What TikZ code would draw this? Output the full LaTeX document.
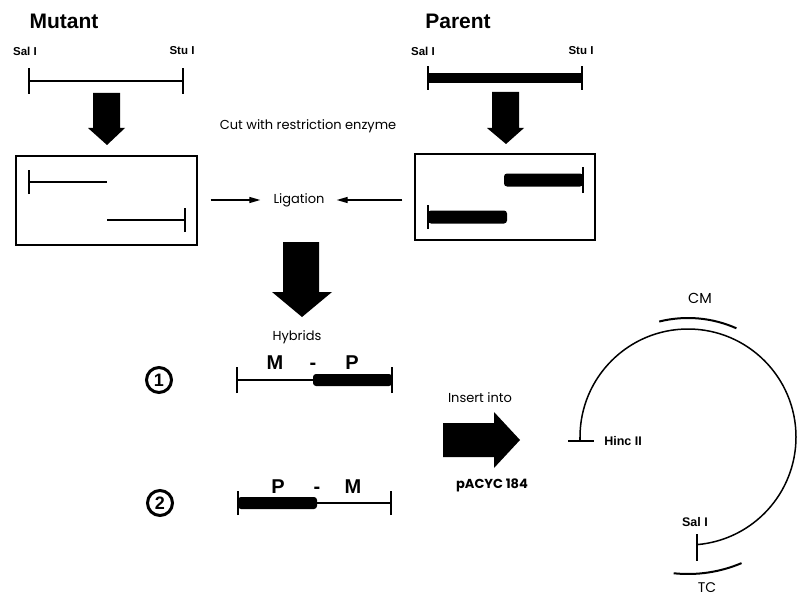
\documentclass[tikz,border=0pt]{standalone}
\usepackage{fontspec}
\setmainfont{Liberation Sans}
\newfontfamily\fut{Poppins}
\usetikzlibrary{arrows.meta,calc}
\begin{document}
\begin{tikzpicture}[x=1pt,y=-1pt,
  thinline/.style={line width=1.3pt},
  tickline/.style={line width=1.6pt},
  title/.style={font=\bfseries\fontsize{21}{21}\selectfont, inner sep=0},
  site/.style={font=\bfseries\fontsize{11.5}{11.5}\selectfont, inner sep=0},
  bigsite/.style={font=\bfseries\fontsize{12.5}{12.5}\selectfont, inner sep=0},
  plain/.style={font=\fut\fontsize{13}{13}\selectfont, inner sep=0},
  hyb/.style={font=\bfseries\fontsize{20}{20}\selectfont, inner sep=0, anchor=base},
  frame/.style={draw, line width=1.3pt, inner sep=0},
  smallarr/.style={line width=1.3pt, -{Triangle[length=11pt,width=6pt]}},
  num/.style={circle, draw, line width=3pt, inner sep=0, minimum size=25pt, font=\bfseries\fontsize{18}{18}\selectfont},
]
\useasboundingbox (0,0) rectangle (803,599);

% ---------- titles ----------
\node[title] (mut) at (64,21) {Mutant};
\node[title] (par) at (458,21) {Parent};

% ---------- mutant fragment ----------
\node[site] (msal) at (25,51) {Sal I};
\node[site] (mstu) at (182,51) {Stu I};
\coordinate (ma) at (29,81);
\coordinate (mb) at (183,81);
\draw[thinline] (ma) -- (mb);
\draw[tickline] ([yshift=-13]ma) -- ([yshift=13]ma);
\draw[tickline] ([yshift=-13]mb) -- ([yshift=13]mb);

% ---------- parent fragment ----------
\node[site] (psal) at (423,51) {Sal I};
\node[site] (pstu) at (581,51) {Stu I};
\coordinate (pa) at (428,78);
\coordinate (pb) at (582,78);
\draw[line width=10pt] (pa) -- (pb);
\draw[tickline] ([yshift=-12]pa) -- ([yshift=12]pa);
\draw[tickline] ([yshift=-12]pb) -- ([yshift=12]pb);

% ---------- block down arrows ----------
\fill (93,93) -- (120,93) -- (120,128) -- (125,128) -- (107,145) -- (88,128) -- (93,128) -- cycle;
\fill (492,92) -- (519,92) -- (519,128) -- (524,128) -- (506,144) -- (487,128) -- (492,128) -- cycle;

\node[plain] (cut) at (308,126) {Cut with restriction enzyme};

% ---------- boxes ----------
\node[frame, minimum width=181pt, minimum height=89pt] (mbox) at (106.5,200.5) {};
\node[frame, minimum width=180pt, minimum height=86pt] (pbox) at (505,197) {};

% mutant pieces
\coordinate (m1a) at (29,182);
\coordinate (m1b) at (107,182);
\draw[thinline] (m1a) -- (m1b);
\draw[tickline] ([yshift=-12]m1a) -- ([yshift=12]m1a);
\coordinate (m2a) at (107,220);
\coordinate (m2b) at (185,220);
\draw[thinline] (m2a) -- (m2b);
\draw[tickline] ([yshift=-12]m2b) -- ([yshift=12]m2b);

% parent pieces
\coordinate (p1b) at (583,180);
\fill[rounded corners=3pt] (504,173.5) rectangle (583,186.5);
\draw[tickline] ([yshift=-13]p1b) -- ([yshift=13]p1b);
\coordinate (p2a) at (428,217);
\fill[rounded corners=3pt] (428,210.5) rectangle (507,223.5);
\draw[tickline] ([yshift=-12]p2a) -- ([yshift=12]p2a);

% ligation
\node[plain] (lig) at (299,200) {Ligation};
\draw[smallarr, shorten <=13pt, shorten >=13pt] (mbox.east |- lig.west) -- (lig.west);
\draw[smallarr, shorten <=12pt, shorten >=12pt] (pbox.west |- lig.east) -- (lig.east);

% big down arrow
\fill (283,242) -- (319,242) -- (319,292) -- (332,292) -- (302,317) -- (272,292) -- (283,292) -- cycle;

\node[plain] (hyb) at (297,337) {Hybrids};

% ---------- hybrid 1 ----------
\node[num] (n1) at (159,380) {1};
\node[hyb] (h1m) at (275,369) {M};
\node[hyb] (h1d) at (313,369) {-};
\node[hyb] (h1p) at (352,369) {P};
\coordinate (h1a) at (237,380);
\coordinate (h1c) at (314,380);
\coordinate (h1b) at (392,380);
\draw[thinline] (h1a) -- (h1c);
\fill[rounded corners=3pt] (313,374) rectangle (392,386);
\draw[tickline] ([yshift=-13]h1a) -- ([yshift=13]h1a);
\draw[tickline] ([yshift=-13]h1b) -- ([yshift=13]h1b);

% ---------- hybrid 2 ----------
\node[num] (n2) at (160,503) {2};
\node[hyb] (h2p) at (278,493) {P};
\node[hyb] (h2d) at (317,493) {-};
\node[hyb] (h2m) at (353,493) {M};
\coordinate (h2a) at (238,503);
\coordinate (h2c) at (316,503);
\coordinate (h2b) at (391,503);
\fill[rounded corners=3pt] (238,497) rectangle (317,509);
\draw[thinline] (h2c) -- (h2b);
\draw[tickline] ([yshift=-12]h2a) -- ([yshift=12]h2a);
\draw[tickline] ([yshift=-12]h2b) -- ([yshift=12]h2b);

% ---------- insert arrow ----------
\node[plain] (ins) at (480,398) {Insert into};
\fill (443,423) -- (494,423) -- (494,412) -- (520,440) -- (494,468) -- (494,457) -- (443,457) -- cycle;
\node[plain, font=\fut\bfseries\fontsize{13}{13}\selectfont] (pac) at (492,485) {pACYC 184};

% ---------- plasmid (angles in picture units, y pointing down) ----------
\coordinate (pc) at (688,437);
\coordinate (hinc) at (580,437);
\draw[line width=1.5pt] (hinc) arc[start angle=180, end angle=445, radius=108];
\draw[tickline] (568,441) -- (594,441);
\draw[line width=1.5pt] (580,441) -- (hinc);
\node[bigsite] (hnc) at (623,441) {Hinc II};
\draw[tickline] (697,534) -- (697,561);
\node[bigsite] (psal2) at (695,522) {Sal I};
\draw[line width=2pt] ($(pc)+(-104:119)$) arc[start angle=-104, end angle=-66, radius=119];
\node[plain, font=\fut\fontsize{14.5}{14.5}\selectfont] (cm) at (700,298) {CM};
\draw[line width=2pt] ($(pc)+(96:137)$) arc[start angle=96, end angle=67, radius=137];
\node[plain, font=\fut\fontsize{14}{14}\selectfont] (tc) at (707,588) {TC};
\end{tikzpicture}
\end{document}
